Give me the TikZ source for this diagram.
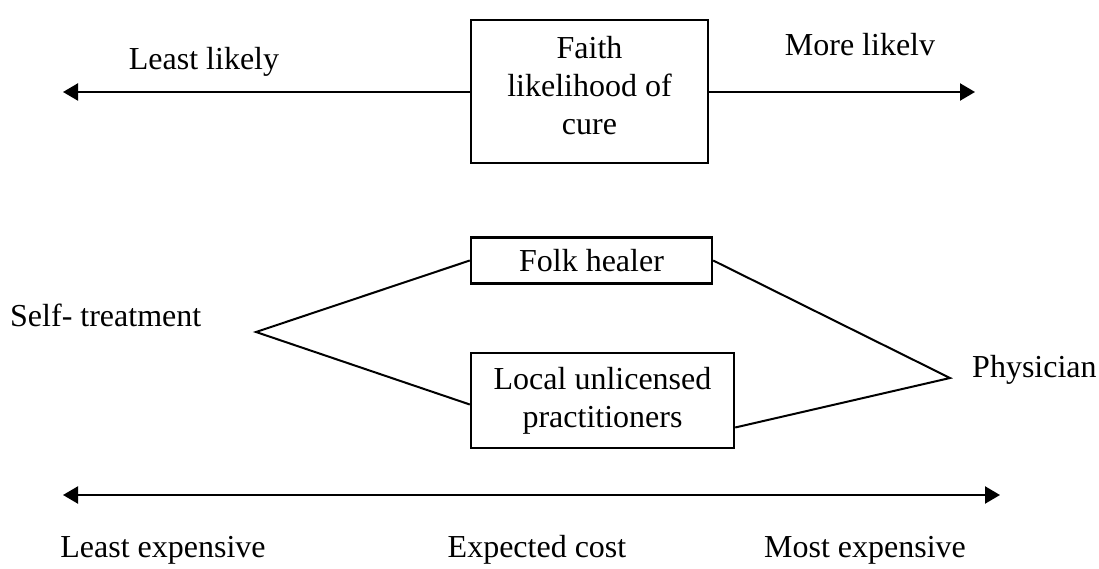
\documentclass[tikz,border=0pt]{standalone}
\usepackage{fontspec}
\setmainfont{Liberation Serif}
\usetikzlibrary{arrows.meta,calc}
\begin{document}
\begin{tikzpicture}[x=1pt,y=-1pt,
  every node/.style={font=\fontsize{32}{38}\selectfont, inner sep=0pt},
  box/.style={draw, line width=2.4pt, align=center},
  conn/.style={line width=2pt},
  arr/.style={line width=2.2pt, -{Triangle[length=15pt,width=17pt]}},
  darr/.style={line width=2.2pt, {Triangle[length=15pt,width=17pt]}-{Triangle[length=15pt,width=17pt]}}]
\useasboundingbox (0,0) rectangle (1099,569);
% boxes
\node[box, minimum width=237pt, minimum height=143pt] (faith) at (589.5,91.5) {};
\node[align=center] (faithtxt) at (589.5,86) {Faith\\likelihood of\\cure};
\node[box, minimum width=241pt, minimum height=46pt] (folk) at (591.5,260.5) {Folk healer};
\node[box, minimum width=263pt, minimum height=95pt] (local) at (602.5,400.5) {Local unlicensed\\practitioners};
% labels
\node (leastlikely) at (204,62) {Least likely};
\node (morelikely) at (860,45) {More likelv};
\node[anchor=west] (self) at (10,315) {Self- treatment};
\node[anchor=west] (phys) at (972,370) {Physician};
\node (leastexp) at (163,550) {Least expensive};
\node (expcost) at (537,550) {Expected cost};
\node (mostexp) at (865,550) {Most expensive};
% coordinates
\coordinate (tl) at (63,92);
\coordinate (tr) at (975,92);
\coordinate (bl) at (63,495);
\coordinate (br) at (1000,495);
\coordinate (apexL) at (256,332);
\coordinate (apexR) at (950,378);
% connectors
\draw[arr] (faith.west |- tl) -- (tl);
\draw[arr] (faith.east |- tr) -- (tr);
\draw[darr] (bl) -- (br);
\draw[conn] (folk.west) -- (apexL) -- ([yshift=-4pt]local.west);
\draw[conn] (folk.east) -- (apexR) -- ([yshift=-27pt]local.east);
\end{tikzpicture}
\end{document}
